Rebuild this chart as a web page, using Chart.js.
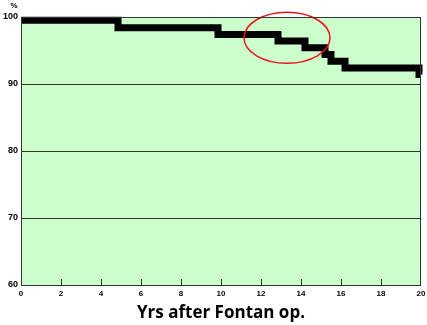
<!DOCTYPE html>
<html>
<head>
    <title>Survival after Fontan</title>
    <script src="https://cdn.jsdelivr.net/npm/chart.js"></script>
    <style>
        body {
            background-color: white;
            margin: 0;
        }
        #chartBox {
            width: 427px;
            height: 325px;
        }
    </style>
</head>
<body>
    <div id="chartBox">
        <canvas id="survivalChart"></canvas>
    </div>

    <script>
        // step points (years after op, % survival)
        const years = [0, 4.85, 9.85, 12.85, 14.2, 15.2, 15.5, 16.2, 19.9, 20];
        const survival = [99.5, 98.4, 97.4, 96.4, 95.4, 94.4, 93.4, 92.4, 91.4, 91.4];

        const yTicks = [60, 70, 80, 90, 100];
        const xTicks = [0, 2, 4, 6, 8, 10, 12, 14, 16, 18, 20];

        // highlighted region (red ellipse), in data units
        const circleMark = { x: 13.3, y: 96.9, rx: 2.15, ry: 3.8 };

        const points = years.map((x, i) => ({ x: x, y: survival[i] }));

        const framePlugin = {
            id: 'frame',
            beforeDraw(chart) {
                const { ctx, chartArea: a } = chart;
                ctx.save();
                ctx.fillStyle = '#ccffcc';
                ctx.fillRect(a.left, a.top, a.right - a.left, a.bottom - a.top);
                ctx.restore();
            },
            afterDraw(chart) {
                const { ctx, chartArea: a, scales } = chart;
                ctx.save();
                ctx.strokeStyle = '#333';
                ctx.lineWidth = 1;
                ctx.strokeRect(a.left + 0.5, a.top + 0.5, a.right - a.left - 1, a.bottom - a.top);
                // small inward ticks on the x axis
                scales.x.ticks.forEach(t => {
                    if (t.value === 0 || t.value === 20) return;
                    const px = Math.round(scales.x.getPixelForValue(t.value)) + 0.5;
                    ctx.beginPath();
                    ctx.moveTo(px, a.bottom);
                    ctx.lineTo(px, a.bottom - 6);
                    ctx.stroke();
                });
                // "%" unit label above the y axis
                ctx.fillStyle = '#000';
                ctx.font = 'bold 8px "Liberation Sans", Arial, sans-serif';
                ctx.textAlign = 'center';
                ctx.textBaseline = 'middle';
                ctx.fillText('%', 14, 6);
                ctx.restore();
            },
            afterDatasetsDraw(chart) {
                const { ctx, scales } = chart;
                const cx = scales.x.getPixelForValue(circleMark.x);
                const cy = scales.y.getPixelForValue(circleMark.y);
                const rx = scales.x.getPixelForValue(circleMark.x + circleMark.rx) - cx;
                const ry = scales.y.getPixelForValue(circleMark.y - circleMark.ry) - cy;
                ctx.save();
                ctx.strokeStyle = '#e8141b';
                ctx.lineWidth = 1.5;
                ctx.beginPath();
                ctx.ellipse(cx, cy, rx, ry, 0, 0, Math.PI * 2);
                ctx.stroke();
                ctx.restore();
            }
        };

        const ctx = document.getElementById('survivalChart').getContext('2d');
        new Chart(ctx, {
            type: 'line',
            data: {
                datasets: [{
                    data: points,
                    stepped: 'before',
                    borderColor: '#000',
                    borderWidth: 7,
                    pointRadius: 0,
                    fill: false,
                    clip: false
                }]
            },
            options: {
                responsive: true,
                maintainAspectRatio: false,
                animation: false,
                layout: { padding: { top: 17, right: 6, left: 0, bottom: 0 } },
                plugins: {
                    legend: { display: false },
                    tooltip: { enabled: false }
                },
                scales: {
                    x: {
                        type: 'linear',
                        min: 0,
                        max: 20,
                        afterBuildTicks: s => { s.ticks = xTicks.map(v => ({ value: v })); },
                        afterFit: s => { s.height = 40; s.paddingRight = 0; s.paddingLeft = 0; },
                        grid: { display: false, drawTicks: false },
                        border: { display: false },
                        ticks: {
                            padding: 4,
                            color: '#000',
                            font: { size: 8, weight: 'bold', family: '"Liberation Sans", Arial, sans-serif' }
                        },
                        title: {
                            display: true,
                            text: 'Yrs after Fontan op.',
                            color: '#000',
                            padding: { top: 0, bottom: 2 },
                            font: { size: 17, weight: 'bold', family: '"Open Sans", sans-serif' }
                        }
                    },
                    y: {
                        min: 60,
                        max: 100,
                        afterBuildTicks: s => { s.ticks = yTicks.map(v => ({ value: v })); },
                        afterFit: s => { s.width = 21; },
                        grid: { color: '#333', lineWidth: 1, drawTicks: false },
                        border: { display: false },
                        ticks: {
                            padding: 3,
                            color: '#000',
                            font: { size: 9, weight: 'bold', family: '"Liberation Sans", Arial, sans-serif' }
                        }
                    }
                }
            },
            plugins: [framePlugin]
        });
    </script>
</body>
</html>
